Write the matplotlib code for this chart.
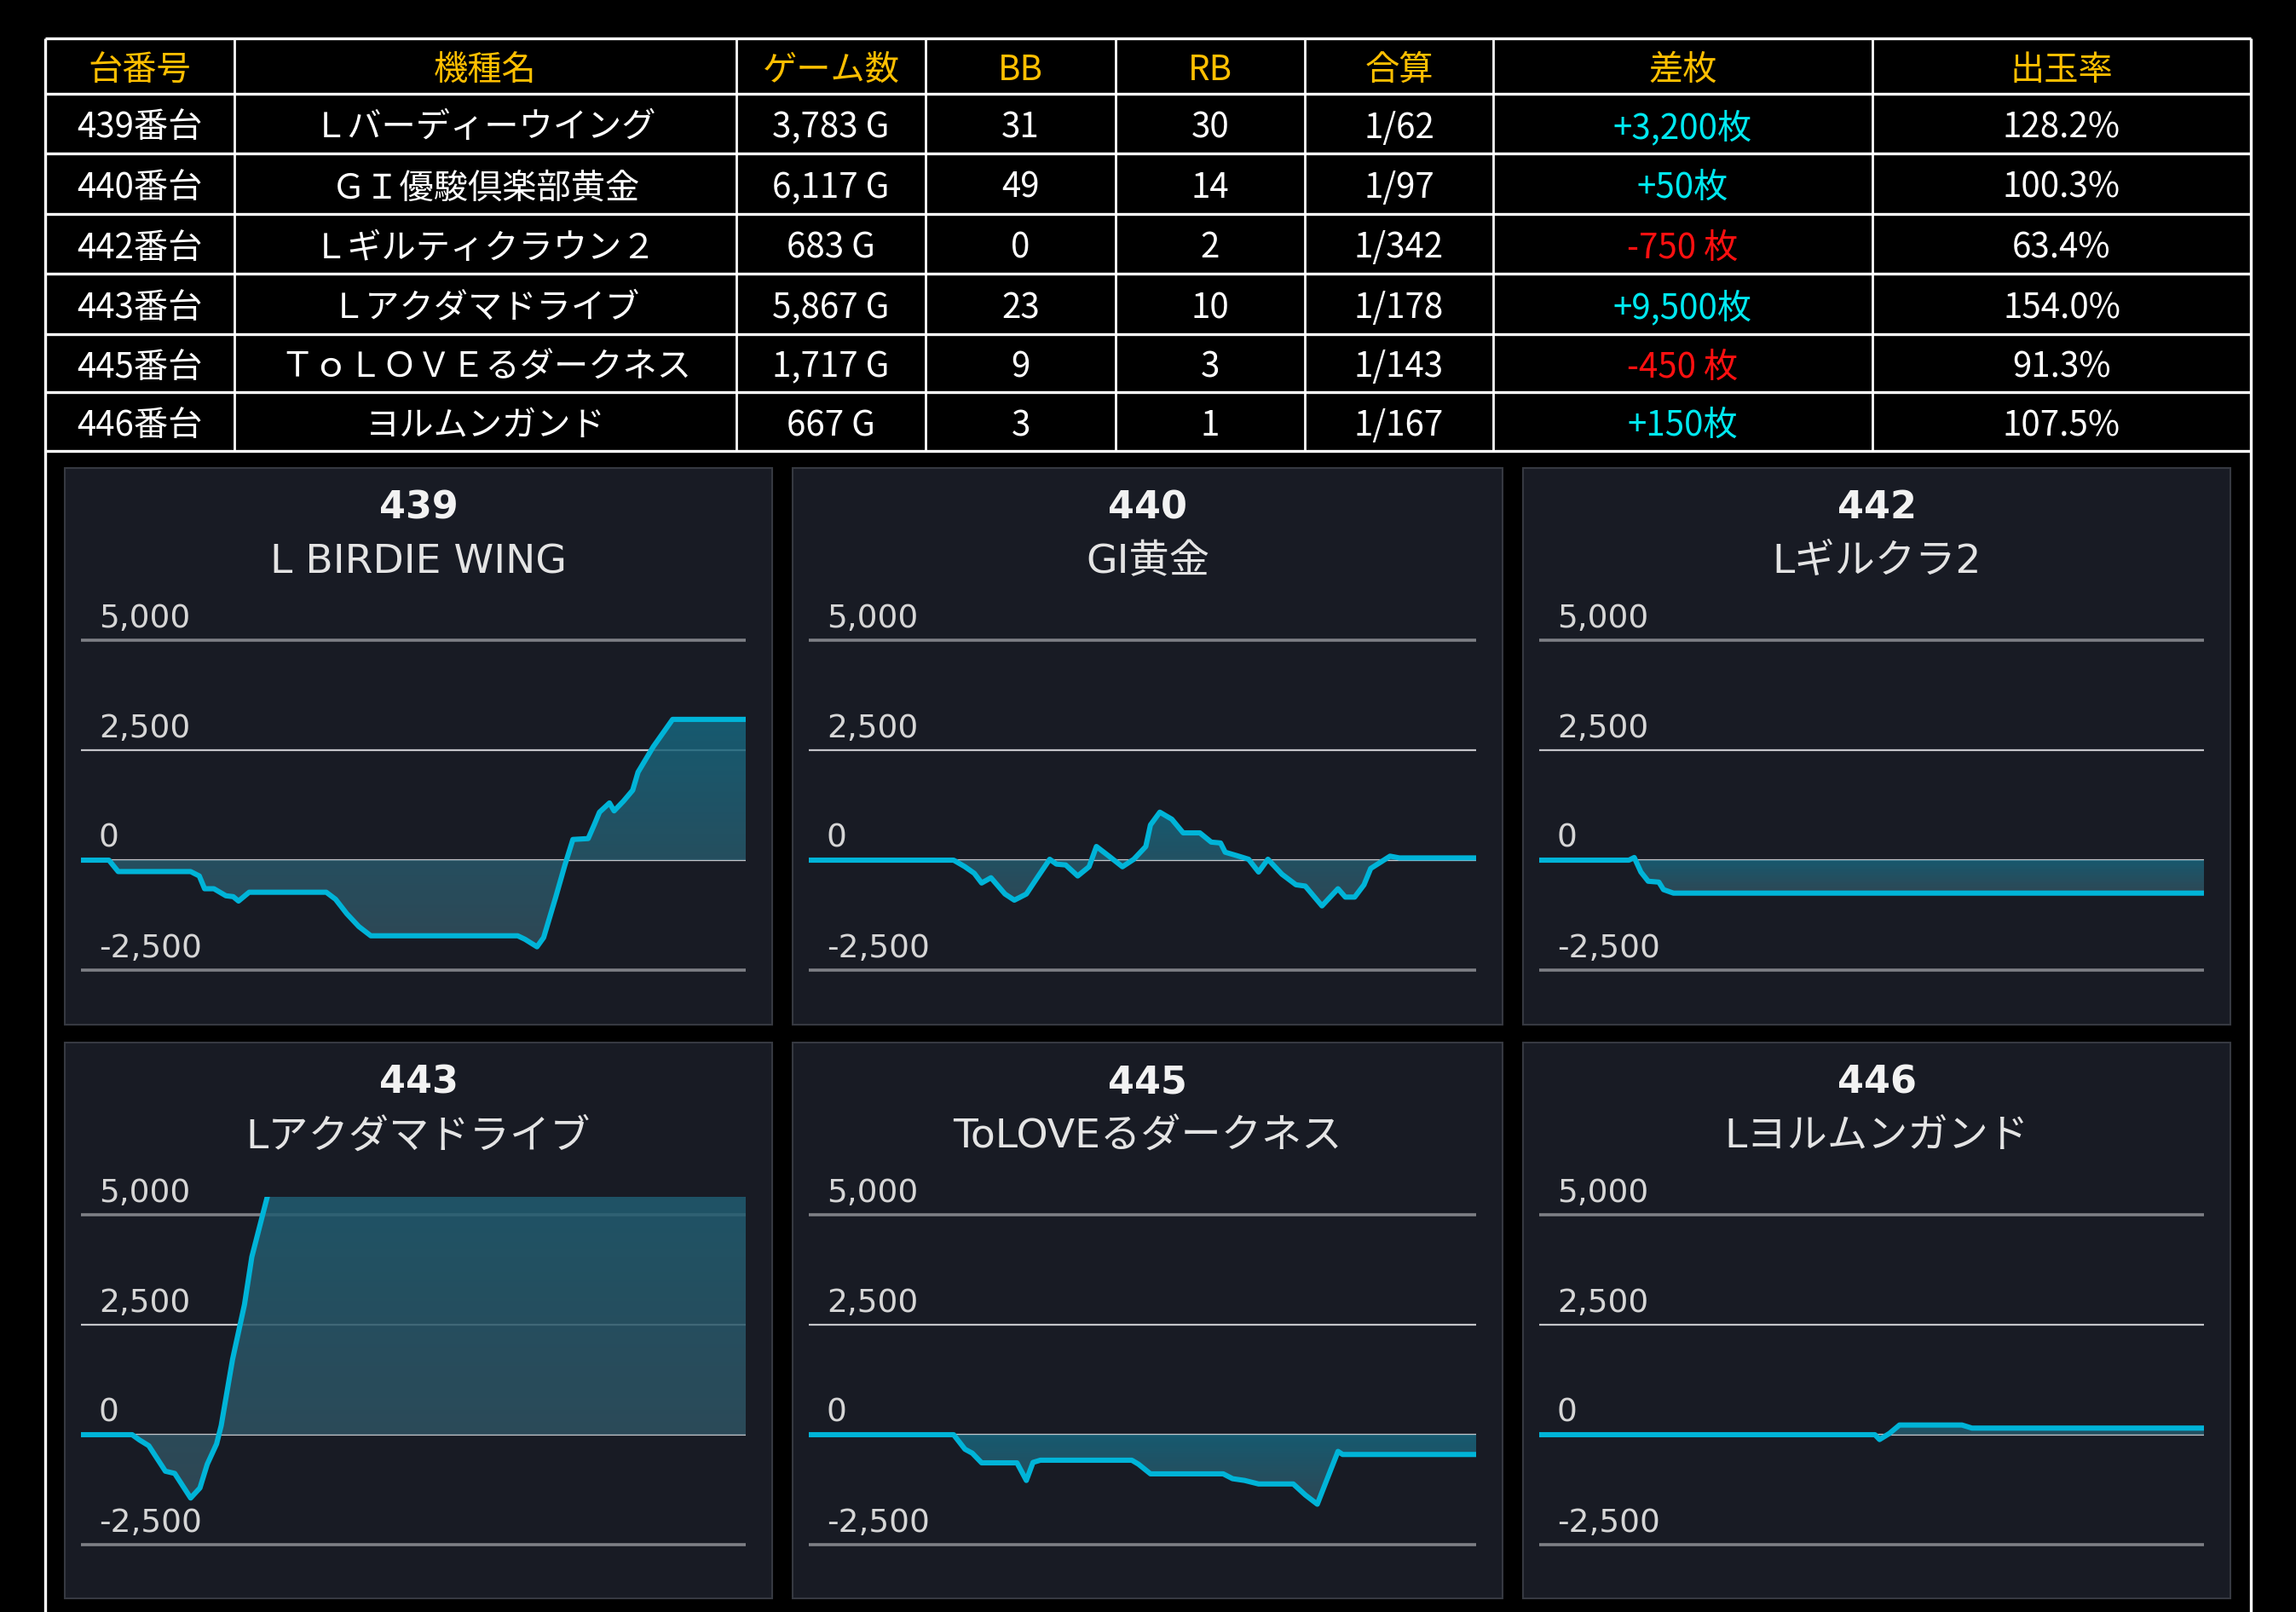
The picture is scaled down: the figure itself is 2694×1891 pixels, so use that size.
import numpy as np
import matplotlib.pyplot as plt
from matplotlib.colors import LinearSegmentedColormap
from matplotlib.patches import Rectangle, PathPatch

W, H = 2694, 1891
DPI = 100

plt.rcParams['font.family'] = ['Noto Sans CJK JP', 'DejaVu Sans']

# table data
header = ["台番号", "機種名", "ゲーム数", "BB", "RB", "合算", "差枚", "出玉率"]
unit_no = ["439番台", "440番台", "442番台", "443番台", "445番台", "446番台"]
model_names = ["Ｌバーディーウイング", "ＧＩ優駿倶楽部黄金", "Ｌギルティクラウン２",
               "Ｌアクダマドライブ", "ＴｏＬＯＶＥるダークネス", "ヨルムンガンド"]
games = ["3,783 G", "6,117 G", "683 G", "5,867 G", "1,717 G", "667 G"]
bb = [31, 49, 0, 23, 9, 3]
rb = [30, 14, 2, 10, 3, 1]
combined = ["1/62", "1/97", "1/342", "1/178", "1/143", "1/167"]
diff = ["+3,200枚", "+50枚", "-750 枚", "+9,500枚", "-450 枚", "+150枚"]
rate = ["128.2%", "100.3%", "63.4%", "154.0%", "91.3%", "107.5%"]

# chart data (x = fraction of the day's games, y = coin difference)
chart_no = ["439", "440", "442", "443", "445", "446"]
chart_names = ["L BIRDIE WING", "GI黄金", "Lギルクラ2",
               "Lアクダマドライブ", "ToLOVEるダークネス", "Lヨルムンガンド"]

x439 = [0, 0.042, 0.056, 0.165, 0.178, 0.186, 0.2, 0.218, 0.229, 0.237, 0.253, 0.369, 0.383, 0.4,
        0.418, 0.436, 0.657, 0.668, 0.686, 0.696, 0.714, 0.728, 0.74, 0.763, 0.772, 0.78, 0.795,
        0.802, 0.816, 0.83, 0.838, 0.861, 0.89, 1.0]
y439 = [0, 0, -260, -260, -360, -650, -650, -810, -830, -930, -730, -730, -890, -1220,
        -1510, -1720, -1720, -1800, -1970, -1760, -850, -110, 470, 490, 800, 1090, 1300,
        1120, 1340, 1590, 2000, 2580, 3200, 3200]

x440 = [0, 0.217, 0.234, 0.248, 0.259, 0.273, 0.294, 0.308, 0.326, 0.344, 0.361, 0.371, 0.385,
        0.403, 0.42, 0.431, 0.449, 0.47, 0.487, 0.505, 0.512, 0.526, 0.544, 0.561, 0.586, 0.603,
        0.617, 0.624, 0.642, 0.659, 0.674, 0.688, 0.709, 0.73, 0.744, 0.769, 0.793, 0.804,
        0.818, 0.832, 0.842, 0.871, 0.885, 1.0]
y440 = [0, 0, -150, -300, -520, -400, -770, -910, -770, -360, 20, -90, -110,
        -360, -150, 310, 100, -150, 20, 310, 800, 1090, 930, 620, 620, 410,
        390, 180, 100, 20, -270, 20, -320, -560, -590, -1040, -650, -840,
        -840, -560, -190, 90, 50, 50]

x442 = [0, 0.135, 0.143, 0.153, 0.164, 0.18, 0.187, 0.202, 1.0]
y442 = [0, 0, 60, -270, -480, -500, -670, -750, -750]

x443 = [0, 0.077, 0.088, 0.102, 0.127, 0.141, 0.165, 0.179, 0.19, 0.204, 0.211, 0.228, 0.246,
        0.257, 0.274, 0.35, 1.0]
y443 = [0, 0, -120, -250, -830, -880, -1440, -1210, -670, -210, 210, 1710, 2960,
        4040, 5040, 9500, 9500]

x445 = [0, 0.217, 0.234, 0.245, 0.259, 0.312, 0.326, 0.336, 0.347, 0.484, 0.494, 0.512, 0.621,
        0.635, 0.653, 0.674, 0.726, 0.744, 0.762, 0.779, 0.793, 0.8, 1.0]
y445 = [0, 0, -330, -420, -640, -640, -1040, -630, -580, -580, -670, -890, -890,
        -1000, -1040, -1120, -1120, -1370, -1580, -920, -380, -450, -450]

x446 = [0, 0.505, 0.512, 0.527, 0.542, 0.636, 0.651, 1.0]
y446 = [0, 0, -110, 30, 220, 220, 150, 150]

series_x = [x439, x440, x442, x443, x445, x446]
series_y = [y439, y440, y442, y443, y445, y446]

y_ticks = [-2500, 0, 2500, 5000]
y_tick_labels = ["-2,500", "0", "2,500", "5,000"]

# colours
GOLD = '#ffbf00'
CYAN_TXT = '#00e8f0'
RED_TXT = '#ff1010'
PANEL_BG = '#181b24'
PANEL_EDGE = '#363941'
LINE = '#00b4d8'
grad = LinearSegmentedColormap.from_list('grad', ['#33505e', '#16667e'])

fig = plt.figure(figsize=(W / DPI, H / DPI), dpi=DPI, facecolor='black')

# full-figure axes in pixel coords for the table + panel boxes
bg = fig.add_axes([0, 0, 1, 1])
bg.set_xlim(0, W)
bg.set_ylim(H, 0)
bg.axis('off')

col_edges = [53, 275, 864, 1086, 1309, 1531, 1752, 2197, 2641]
row_edges = [45, 110, 180, 251, 321, 392, 460, 529]

bg.hlines(row_edges, col_edges[0], col_edges[-1], color='white', lw=2.4)
bg.vlines(col_edges[1:-1], row_edges[0], row_edges[-1], color='white', lw=2.0)
bg.vlines([col_edges[0], col_edges[-1]], row_edges[0], H, color='white', lw=2.4)

centers = [(a + b) / 2 for a, b in zip(col_edges[:-1], col_edges[1:])]
row_c = [(a + b) / 2 + 5 for a, b in zip(row_edges[:-1], row_edges[1:])]

for cx, h in zip(centers, header):
    bg.text(cx, row_c[0], h, color=GOLD, fontsize=29, ha='center', va='center')

for i in range(len(unit_no)):
    cells = [unit_no[i], model_names[i], games[i], str(bb[i]), str(rb[i]),
             combined[i], diff[i], rate[i]]
    for j, (cx, t) in enumerate(zip(centers, cells)):
        c = 'white'
        if j == 6:
            c = CYAN_TXT if t.startswith('+') else RED_TXT
        bg.text(cx, row_c[i + 1], t, color=c, fontsize=29, ha='center', va='center')

# chart panels
panel_cols = [(76, 906), (930, 1763), (1787, 2617)]
panel_rows = [(549, 1202), (1223, 1875)]
chart_fonts = ['DejaVu Sans', 'Noto Sans CJK JP']

for k in range(6):
    pl, pr = panel_cols[k % 3]
    pt, pb = panel_rows[k // 3]
    bg.add_patch(Rectangle((pl, pt), pr - pl, pb - pt, facecolor=PANEL_BG,
                           edgecolor=PANEL_EDGE, lw=1.5))
    mid = (pl + pr) / 2
    bg.text(mid, pt + 47, chart_no[k], color='#f2f2f2', fontsize=32, fontweight='bold',
            ha='center', va='center', family=chart_fonts)
    bg.text(mid, pt + 111, chart_names[k], color='#e4e4e4', fontsize=34,
            ha='center', va='center', family=chart_fonts)

    # plot area: 5000 line at pt+202, -2500 line at pt+589
    px_per = (589 - 202) / 7500.0
    top_val, bot_val = 5400, -2600
    a_top = pt + 202 - (top_val - 5000) * px_per
    a_bot = pt + 589 + (-2500 - bot_val) * px_per
    a_l, a_r = pl + 19, pr - 31
    ax = fig.add_axes([a_l / W, 1 - a_bot / H, (a_r - a_l) / W, (a_bot - a_top) / H])
    ax.set_facecolor('none')
    for s in ax.spines.values():
        s.set_visible(False)

    xs = np.array(series_x[k])
    ys = np.array(series_y[k])

    poly = ax.fill_between(xs, ys, 0, facecolor='none', edgecolor='none')
    clip = PathPatch(poly.get_paths()[0], transform=ax.transData,
                     facecolor='none', edgecolor='none')
    ax.add_patch(clip)
    ymin, ymax = ys.min(), ys.max()
    if ymax - ymin < 1:
        ymax = ymin + 1
    im = ax.imshow(np.linspace(0, 1, 256).reshape(-1, 1), cmap=grad, aspect='auto',
                   extent=[0, 1, ymin, ymax], origin='lower', alpha=0.85, zorder=1)
    im.set_clip_path(clip)

    ax.plot(xs, ys, color=LINE, lw=4.4, solid_joinstyle='round',
            solid_capstyle='butt', zorder=3)

    ax.set_xlim(0, 1)
    ax.set_ylim(bot_val, top_val)
    ax.set_yticks(y_ticks)
    ax.set_xticks([])
    ax.tick_params(left=False, labelleft=False, bottom=False, labelbottom=False)
    ax.grid(axis='y')
    ax.set_axisbelow(True)
    for v, gl in zip(y_ticks, ax.get_ygridlines()):
        if v in (-2500, 5000):
            gl.set_color('#7e8086')
            gl.set_linewidth(2.6)
        else:
            gl.set_color('#c4c5c9')
            gl.set_linewidth(1.6)

    for v, lbl in zip(y_ticks, y_tick_labels):
        ax.annotate(lbl, xy=(0, v), xycoords=ax.get_yaxis_transform(),
                    xytext=(15, 11), textcoords='offset points', va='baseline',
                    ha='left', color='#d6d6d6', fontsize=27, family=chart_fonts)

fig.savefig('out.png', dpi=DPI, facecolor='black')
